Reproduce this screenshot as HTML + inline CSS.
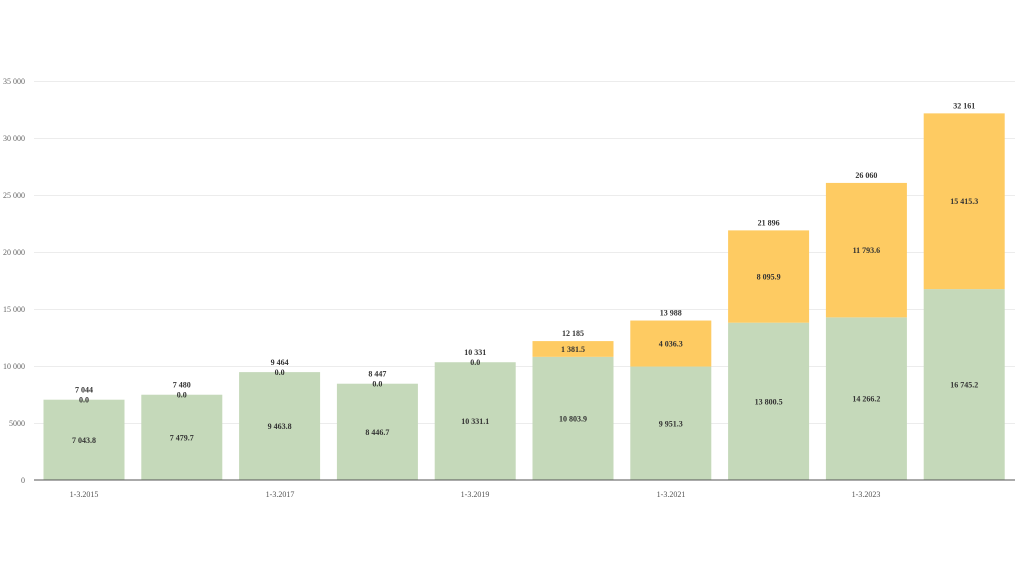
<!DOCTYPE html>
<html><head><meta charset="utf-8"><style>body{margin:0;background:#fff}svg{display:block}text{font-family:"Liberation Serif",serif}</style></head><body>
<svg width="1024" height="576" viewBox="0 0 1024 576" xmlns="http://www.w3.org/2000/svg">
<g stroke="#ececec" stroke-width="1">
<line x1="34" x2="1015" y1="423.5" y2="423.5"/><line x1="34" x2="1015" y1="366.5" y2="366.5"/><line x1="34" x2="1015" y1="309.5" y2="309.5"/><line x1="34" x2="1015" y1="252.5" y2="252.5"/><line x1="34" x2="1015" y1="195.5" y2="195.5"/><line x1="34" x2="1015" y1="138.5" y2="138.5"/><line x1="34" x2="1015" y1="81.5" y2="81.5"/>
</g>
<g font-size="8" fill="#666" text-anchor="end">
<text x="25" y="483">0</text><text x="25" y="426">5000</text><text x="25" y="369">10 000</text><text x="25" y="312">15 000</text><text x="25" y="255">20 000</text><text x="25" y="198">25 000</text><text x="25" y="141">30 000</text><text x="25" y="84">35 000</text>
</g>
<g fill="#c5d9ba">
<rect x="43.5" y="399.7" width="81" height="80.3"/>
<rect x="141.3" y="394.73" width="81" height="85.27"/>
<rect x="239.1" y="372.11" width="81" height="107.89"/>
<rect x="336.9" y="383.71" width="81" height="96.29"/>
<rect x="434.7" y="362.23" width="81" height="117.77"/>
<rect x="532.5" y="356.84" width="81" height="123.16"/>
<rect x="630.3" y="366.55" width="81" height="113.45"/>
<rect x="728.1" y="322.67" width="81" height="157.33"/>
<rect x="825.9" y="317.37" width="81" height="162.63"/>
<rect x="923.7" y="289.1" width="81" height="190.9"/>
</g>
<g fill="#fecb62">
<rect x="532.5" y="341.09" width="81" height="15.75"/>
<rect x="630.3" y="320.54" width="81" height="46.01"/>
<rect x="728.1" y="230.38" width="81" height="92.29"/>
<rect x="825.9" y="182.92" width="81" height="134.45"/>
<rect x="923.7" y="113.37" width="81" height="175.73"/>
</g>
<g font-size="8" font-weight="bold" fill="#333" text-anchor="middle">
<text x="84" y="442.8">7 043.8</text><text x="84" y="402.7">0.0</text><text x="84" y="392.7">7 044</text>
<text x="181.8" y="440.4">7 479.7</text><text x="181.8" y="397.7">0.0</text><text x="181.8" y="387.7">7 480</text>
<text x="279.6" y="429.1">9 463.8</text><text x="279.6" y="375.1">0.0</text><text x="279.6" y="365.1">9 464</text>
<text x="377.4" y="434.9">8 446.7</text><text x="377.4" y="386.7">0.0</text><text x="377.4" y="376.7">8 447</text>
<text x="475.2" y="424.1">10 331.1</text><text x="475.2" y="365.2">0.0</text><text x="475.2" y="355.2">10 331</text>
<text x="573" y="421.4">10 803.9</text><text x="573" y="352">1 381.5</text><text x="573" y="336.1">12 185</text>
<text x="670.8" y="426.3">9 951.3</text><text x="670.8" y="346.5">4 036.3</text><text x="670.8" y="315.5">13 988</text>
<text x="768.6" y="404.3">13 800.5</text><text x="768.6" y="279.5">8 095.9</text><text x="768.6" y="225.4">21 896</text>
<text x="866.4" y="401.7">14 266.2</text><text x="866.4" y="253.1">11 793.6</text><text x="866.4" y="177.9">26 060</text>
<text x="964.2" y="387.6">16 745.2</text><text x="964.2" y="204.2">15 415.3</text><text x="964.2" y="108.4">32 161</text>
</g>
<line x1="34" x2="1015" y1="480" y2="480" stroke="#555" stroke-width="1"/>
<g font-size="8" fill="#555" text-anchor="middle">
<text x="84" y="497">1-3.2015</text><text x="280" y="497">1-3.2017</text><text x="475" y="497">1-3.2019</text><text x="671" y="497">1-3.2021</text><text x="866" y="497">1-3.2023</text>
</g>
</svg>
</body></html>
